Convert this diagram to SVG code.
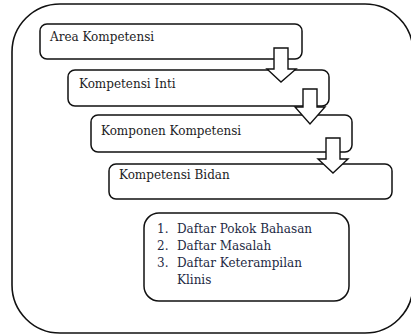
<svg xmlns="http://www.w3.org/2000/svg" width="411" height="336" viewBox="0 0 411 336">
<style>
.frame{fill:none;stroke:#111;stroke-width:1.6}
.box{fill:#fff;stroke:#111;stroke-width:1.5}
.arr{fill:#fff;stroke:#111;stroke-width:1.4;stroke-linejoin:miter}
.t{font-family:"DejaVu Serif","Liberation Serif",serif;font-size:12px;fill:#1c1c24}
.l{font-family:"DejaVu Serif","Liberation Serif",serif;font-size:12px;fill:#1e2a44}
</style>
<rect width="411" height="336" fill="#fff"/>
<rect class="frame" x="12" y="4" width="401" height="329" rx="48" ry="48"/>
<g id="node-area">
<rect class="box" x="40" y="24" width="262" height="35" rx="7"/>
<text class="t" x="50" y="41">Area Kompetensi</text>
</g>
<g id="node-inti">
<rect class="box" x="68" y="70" width="261" height="36" rx="7"/>
<text class="t" x="79" y="88">Kompetensi Inti</text>
</g>
<g id="node-komponen">
<rect class="box" x="91" y="115" width="261" height="37" rx="7"/>
<text class="t" x="101" y="135">Komponen Kompetensi</text>
</g>
<g id="node-bidan">
<rect class="box" x="109" y="164" width="283" height="35" rx="7"/>
<text class="t" x="119" y="179">Kompetensi Bidan</text>
</g>
<g id="node-daftar">
<rect class="box" x="144" y="213" width="205" height="88" rx="15"/>
<text class="l" x="157" y="233">1.</text>
<text class="l" x="177" y="233">Daftar Pokok Bahasan</text>
<text class="l" x="157" y="250">2.</text>
<text class="l" x="177" y="250">Daftar Masalah</text>
<text class="l" x="157" y="267">3.</text>
<text class="l" x="177" y="267">Daftar Keterampilan</text>
<text class="l" x="177" y="284">Klinis</text>
</g>
<g id="connectors">
<path class="arr" d="M274,48 H288 V69 H296 L281,82 L267,69 H274 Z"/>
<path class="arr" d="M303,89 H317 V107 H325 L310,124 L295,107 H303 Z"/>
<path class="arr" d="M326,138 H340 V159 H348 L333,173 L318,159 H326 Z"/>
</g>
</svg>
